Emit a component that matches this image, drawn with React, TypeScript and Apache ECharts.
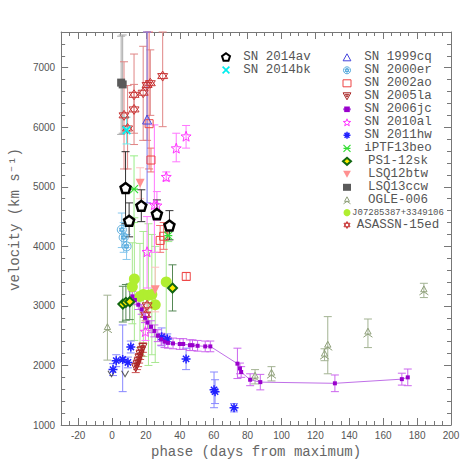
import React, { useEffect, useRef } from 'react';
import * as echarts from 'echarts';

// [phase, velocity, lower, upper]
const sn2014av = [[8.0, 4980, 4380, 5590], [10.1, 4430, 4160, 4730], [17.3, 4680, 4415, 4950], [26.5, 4545, 4445, 4780], [33.9, 4350, 4110, 4600]];
const sn2014bk = [[8.6, 5950, 5720, 6170]];
const sn1999cq = [[20.7, 6130, 4730, 7600]];
const sn2000er = [[5.8, 4280, 3980, 4560], [6.9, 4150, 3900, 4400], [8.6, 4000, 3780, 4200]];
const sn2002ao = [[21.9, 6060, 5300, 7600], [23.0, 5450, 5250, 5650], [28.4, 4100, 3900, 4350], [30.5, 4170, 3950, 4400], [43.8, 3495, 3430, 3560]];
const sn2005la = [[14.0, 1960, 1880, 2040], [14.8, 2010, 1930, 2090], [15.4, 2060, 1980, 2140], [16.0, 2120, 2040, 2200], [16.6, 2180, 2100, 2260], [17.3, 2240, 2160, 2320], [18.2, 2300, 2220, 2380]];
const sn2006jc = [[12.0, 3160, 3080, 3240], [13.5, 3100, 3020, 3180], [15.5, 3020, 2940, 3100], [17.5, 2940, 2860, 3020], [19.5, 2800, 2720, 2880], [21.0, 2720, 2620, 2820], [23.0, 2650, 2550, 2750], [25.0, 2580, 2480, 2680], [27.0, 2500, 2400, 2600], [29.0, 2440, 2340, 2540], [31.0, 2400, 2300, 2500], [33.0, 2380, 2290, 2470], [36.0, 2370, 2280, 2460], [40.0, 2360, 2270, 2450], [42.0, 2360, 2270, 2450], [46.0, 2340, 2250, 2430], [47.5, 2340, 2250, 2430], [50.5, 2330, 2240, 2420], [55.0, 2320, 2230, 2410], [58.0, 2320, 2230, 2410], [74.0, 2030, 1780, 2290], [75.5, 1950, 1860, 2040], [76.2, 1890, 1800, 1980], [81.5, 1760, 1660, 1860], [87.5, 1720, 1590, 1850], [131.5, 1700, 1560, 1840], [171.0, 1770, 1670, 1870], [174.5, 1800, 1660, 1940]];
const sn2010al = [[20.7, 3910, 3300, 4500], [19.7, 2570, 2420, 2720], [25.0, 4700, 3900, 6040], [26.5, 4690, 4440, 4920], [32.0, 5170, 5100, 5250], [37.9, 5650, 5420, 5900], [43.7, 5850, 5650, 6030]];
const sn2011hw = [[0.6, 1930, 1830, 2030], [2.5, 2080, 1980, 2180], [6.3, 2100, 1560, 2680], [9.4, 2050, 1960, 2140], [11.1, 2310, 2210, 2410], [29.3, 2480, 2330, 2630], [32.6, 2445, 2360, 2530], [43.7, 2110, 1930, 2290], [60.2, 1590, 1290, 1890], [60.8, 1560, 1360, 1760], [72.0, 1290, 1220, 1360]];
const iptf13beo = [[13.0, 4960, 4400, 5520], [33.2, 4180, 4080, 4280]];
const ps112sk = [[6.4, 3030, 2730, 3330], [8.2, 3060, 2760, 3360], [10.5, 3070, 2770, 3370], [35.7, 3300, 2915, 3690]];
const lsq12btw = [[16.6, 5060, 4800, 5320], [25.5, 3270, 2900, 3650]];
const lsq13ccw = [[5.4, 6750, 5880, 7530], [6.3, 6720, 5900, 7550]];
const ogle006 = [[-2.7, 2625, 2090, 3180], [84.4, 1810, 1690, 1930], [94.1, 1860, 1740, 1980], [125.4, 2180, 2080, 2280], [127.3, 2330, 1860, 2820], [151.0, 2550, 2300, 2780], [184.0, 3260, 3140, 3380]];
const j0728 = [[12.0, 3320, 2700, 4060], [13.2, 3450, 2420, 4480], [16.5, 3160, 2300, 4050], [18.5, 3190, 2150, 4250], [21.5, 3180, 2000, 4380], [23.5, 3190, 2180, 4200], [25.5, 3020, 2050, 4000], [32.0, 3400, 2450, 4400]];
const asassn15ed = [[7.1, 6200, 5300, 7100], [9.2, 5980, 5300, 6700], [13.0, 6545, 5710, 7230], [13.0, 6300, 5900, 6720], [18.4, 6580, 5780, 7360], [20.7, 6710, 5780, 7600], [22.6, 6740, 6200, 7300], [29.9, 6860, 6010, 7600], [20.7, 3010, 2900, 3120], [19.8, 2850, 2750, 2950]];
const limits = [[-0.3, 1860], [7.7, 1860]];

const xMajor = [-20, 0, 20, 40, 60, 80, 100, 120, 140, 160, 180, 200];
const yMajor = [1000, 2000, 3000, 4000, 5000, 6000, 7000];

const xMinor: number[] = [];
for (let v = -25; v <= 200; v += 5) if (v % 20 !== 0) xMinor.push(v);
const yMinor: number[] = [];
for (let v = 1200; v <= 7600; v += 200) if (v % 1000 !== 0) yMinor.push(v);

const starPath = (() => {
  const pts: string[] = [];
  for (let i = 0; i < 10; i++) {
    const r = i % 2 === 0 ? 5 : 2.1;
    const a = -Math.PI / 2 + (i * Math.PI) / 5;
    pts.push(`${(5 + r * Math.cos(a)).toFixed(2)},${(5 + r * Math.sin(a)).toFixed(2)}`);
  }
  return 'path://M' + pts.join(' L') + ' Z';
})();

const SYM = {
  pentagon: 'path://M5,0 L9.76,3.45 L7.94,9.05 L2.06,9.05 L0.24,3.45 Z',
  bowX: 'path://M0,1.5 L1.5,0 L5,3.5 L8.5,0 L10,1.5 L6.5,5 L10,8.5 L8.5,10 L5,6.5 L1.5,10 L0,8.5 L3.5,5 Z',
  triUp: 'path://M5,0 L10,9 L0,9 Z',
  flower: 'path://M5,0 A5,5 0 1 1 4.99,0 Z M5,1.8 L7.8,6.6 L2.2,6.6 Z M5,8.2 L2.2,3.4 L7.8,3.4 Z',
  triDown: 'path://M0,0 L10,0 L5,9 Z M3,2 L7,2 L5,5.5 Z',
  triDownFill: 'path://M0,0 L10,0 L5,9 Z',
  asterisk: 'path://M0,5 L10,5 M5,0 L5,10 M1.5,1.5 L8.5,8.5 M8.5,1.5 L1.5,8.5',
  xstar: 'path://M0,0 L10,10 M10,0 L0,10 M0,5 L10,5',
  ogle: 'path://M5,0 L8.5,6.5 L1.5,6.5 Z M5,6.5 L0,10 M5,6.5 L10,10',
  hexagram: 'path://M5,0 L9.33,7.5 L0.67,7.5 Z M5,10 L0.67,2.5 L9.33,2.5 Z',
  chevron: 'path://M0,0 L5,7 L10,0',
};

const errRender = (color: string, cap = 4, width = 1) => (params: any, api: any) => {
  const x = api.value(0);
  const lo = api.value(2);
  const hi = api.value(3);
  const p1 = api.coord([x, lo]);
  const p2 = api.coord([x, hi]);
  const st = { stroke: color, lineWidth: width };
  return {
    type: 'group',
    children: [
      { type: 'line', shape: { x1: p1[0], y1: p1[1], x2: p2[0], y2: p2[1] }, style: st },
      { type: 'line', shape: { x1: p1[0] - cap, y1: p1[1], x2: p1[0] + cap, y2: p1[1] }, style: st },
      { type: 'line', shape: { x1: p2[0] - cap, y1: p2[1], x2: p2[0] + cap, y2: p2[1] }, style: st },
    ],
  };
};

const CLEAR = 'rgba(255,255,255,0)';

type Def = { name: string; data: number[][]; symbol: string; size: number | number[]; fill: string; stroke: string; bw: number; err: string; line?: boolean; z?: number };

const defs: Def[] = [
  { name: 'J07285387+3349106', data: j0728, symbol: 'circle', size: 11, fill: '#b0ee30', stroke: '#b0ee30', bw: 0, err: '#a8e890', z: 2 },
  { name: 'OGLE-006', data: ogle006, symbol: SYM.ogle, size: 9, fill: CLEAR, stroke: '#8fa07a', bw: 1, err: '#a3b393' },
  { name: 'LSQ13ccw', data: lsq13ccw, symbol: 'rect', size: 8, fill: '#5a5a5a', stroke: '#5a5a5a', bw: 0, err: '#aaaaaa' },
  { name: 'LSQ12btw', data: lsq12btw, symbol: SYM.triDownFill, size: 9, fill: '#ff9090', stroke: '#ff9090', bw: 0, err: '#ffc0c0' },
  { name: 'ASASSN-15ed', data: asassn15ed, symbol: SYM.hexagram, size: 10, fill: CLEAR, stroke: '#c83535', bw: 1, err: '#e08585' },
  { name: 'SN 2002ao', data: sn2002ao, symbol: 'rect', size: 8, fill: CLEAR, stroke: '#ee4444', bw: 1, err: '#f07070' },
  { name: 'SN 1999cq', data: sn1999cq, symbol: SYM.triUp, size: 9, fill: CLEAR, stroke: '#4444dd', bw: 1, err: '#7777ee' },
  { name: 'SN 2000er', data: sn2000er, symbol: SYM.flower, size: 9, fill: CLEAR, stroke: '#55aadd', bw: 1, err: '#88c8ee' },
  { name: 'SN 2005la', data: sn2005la, symbol: SYM.triDown, size: 8, fill: CLEAR, stroke: '#a82222', bw: 1, err: '#cc5555' },
  { name: 'SN 2010al', data: sn2010al, symbol: starPath, size: 10, fill: CLEAR, stroke: '#ff33ff', bw: 1, err: '#ff77ff' },
  { name: 'iPTF13beo', data: iptf13beo, symbol: SYM.xstar, size: 8, fill: CLEAR, stroke: '#33dd33', bw: 1.2, err: '#99ee88' },
  { name: 'SN 2011hw', data: sn2011hw, symbol: SYM.asterisk, size: 9, fill: CLEAR, stroke: '#2222ff', bw: 1.5, err: '#8888ff' },
  { name: 'SN 2006jc', data: sn2006jc, symbol: 'rect', size: 4, fill: '#9900cc', stroke: '#9900cc', bw: 0, err: '#cc66ee', line: true },
  { name: 'PS1-12sk', data: ps112sk, symbol: 'diamond', size: 9, fill: '#ffee00', stroke: '#116611', bw: 2, err: '#558855' },
  { name: 'SN 2014bk', data: sn2014bk, symbol: SYM.bowX, size: 9, fill: '#00eeee', stroke: '#00eeee', bw: 0, err: '#66eeee' },
  { name: 'SN 2014av', data: sn2014av, symbol: SYM.pentagon, size: 10, fill: '#ffffff', stroke: '#000000', bw: 2.5, err: '#333333' },
];

const legendRight = ['SN 1999cq', 'SN 2000er', 'SN 2002ao', 'SN 2005la', 'SN 2006jc', 'SN 2010al', 'SN 2011hw', 'iPTF13beo', 'PS1-12sk', 'LSQ12btw', 'LSQ13ccw', 'OGLE-006', 'J07285387+3349106', 'ASASSN-15ed'];
const legendLeft = ['SN 2014av', 'SN 2014bk'];

const FONT = "'Liberation Mono', 'Courier New', monospace";
const axisColor = '#777';
const textColor = '#555';

const mkX = (pos: string, major: boolean, labels: boolean) => ({
  type: 'value', min: -30, max: 200, position: pos,
  axisLine: { show: major, onZero: false, lineStyle: { color: axisColor, width: 1 } },
  axisTick: { show: true, inside: true, length: major ? 7 : 4, customValues: major ? xMajor : xMinor, lineStyle: { color: axisColor } },
  axisLabel: { show: labels, customValues: xMajor, color: textColor, fontFamily: 'Liberation Sans', fontSize: 10, margin: 5, formatter: (v: number) => String(v) },
  splitLine: { show: false },
  ...(labels ? { name: 'phase (days from maximum)', nameLocation: 'middle', nameGap: 19, nameTextStyle: { fontFamily: FONT, fontSize: 14, color: '#666' } } : {}),
});
const mkY = (pos: string, major: boolean, labels: boolean) => ({
  type: 'value', min: 1000, max: 7600, position: pos,
  axisLine: { show: major, onZero: false, lineStyle: { color: axisColor, width: 1 } },
  axisTick: { show: true, inside: true, length: major ? 7 : 4, customValues: major ? yMajor : yMinor, lineStyle: { color: axisColor } },
  axisLabel: { show: labels, customValues: yMajor, color: textColor, fontFamily: 'Liberation Sans', fontSize: 10, margin: 6, formatter: (v: number) => String(v) },
  splitLine: { show: false },
  ...(labels ? { name: 'velocity (km s⁻¹)', nameLocation: 'middle', nameGap: 36, nameTextStyle: { fontFamily: FONT, fontSize: 14, color: '#666', padding: [0, 0, 0, 18] } } : {}),
});

const legendText = (w: number) => ({
  fontFamily: FONT,
  color: textColor,
  rich: {
    c: { fontFamily: FONT, fontSize: 12.5, color: textColor, width: w, align: 'center', lineHeight: 11.7, height: 11.7 },
    s: { fontFamily: FONT, fontSize: 9, color: textColor, width: w, align: 'center', lineHeight: 11.7, height: 11.7 },
  },
});
const legendFmt = (name: string) => (name.startsWith('J0') ? `{s|${name}}` : `{c|${name}}`);

export default function App() {
  const ref = useRef<HTMLDivElement>(null);
  useEffect(() => {
    const chart = echarts.init(ref.current!, null, { renderer: 'svg' });
    const series: any[] = [];
    defs.forEach((d, i) => {
      series.push({
        type: 'custom', name: 'err ' + d.name, data: d.data, renderItem: errRender(d.err),
        encode: { x: 0, y: 2 }, z: 1 + i * 0.01, silent: true,
      });
    });
    defs.forEach((d, i) => {
      series.push({
        type: d.line ? 'line' : 'scatter', name: d.name, data: d.data.map((p) => [p[0], p[1]]),
        symbol: d.symbol, symbolSize: d.size, z: d.z ?? 3 + i * 0.01,
        itemStyle: { color: d.fill, borderColor: d.stroke, borderWidth: d.bw, opacity: 1 },
        ...(d.line ? { lineStyle: { color: '#c070e8', width: 1 }, showSymbol: true } : {}),
      });
    });
    series.push({
      type: 'scatter', name: 'limits', data: limits, symbol: SYM.chevron, symbolSize: [7, 6], z: 3,
      itemStyle: { color: CLEAR, borderColor: '#333', borderWidth: 1 },
    });
    const legItem = (name: string) => {
      const d = defs.find((q) => q.name === name)!;
      return { name, itemStyle: { color: d.fill, borderColor: d.stroke, borderWidth: Math.min(d.bw, 2) } };
    };
    chart.setOption({
      animation: false,
      backgroundColor: '#fff',
      grid: { left: 52, right: 25, top: 32, bottom: 51 },
      xAxis: [mkX('bottom', true, true), mkX('bottom', false, false), mkX('top', true, false), mkX('top', false, false)],
      yAxis: [mkY('left', true, true), mkY('left', false, false), mkY('right', true, false), mkY('right', false, false)],
      legend: [
        { orient: 'vertical', left: 221, top: 50.5, padding: 0, itemGap: 0, itemWidth: 8, itemHeight: 8, selectedMode: false, data: legendLeft.map(legItem), formatter: legendFmt, textStyle: legendText(84) },
        { orient: 'vertical', left: 342, top: 50.8, padding: 0, itemGap: 0, itemWidth: 8, itemHeight: 7, selectedMode: false, data: legendRight.map(legItem), formatter: legendFmt, textStyle: legendText(84) },
      ],
      series,
    });
    return () => chart.dispose();
  }, []);
  return <div ref={ref} style={{ width: 476, height: 476, position: 'absolute', left: 0, top: 0 }} />;
}
